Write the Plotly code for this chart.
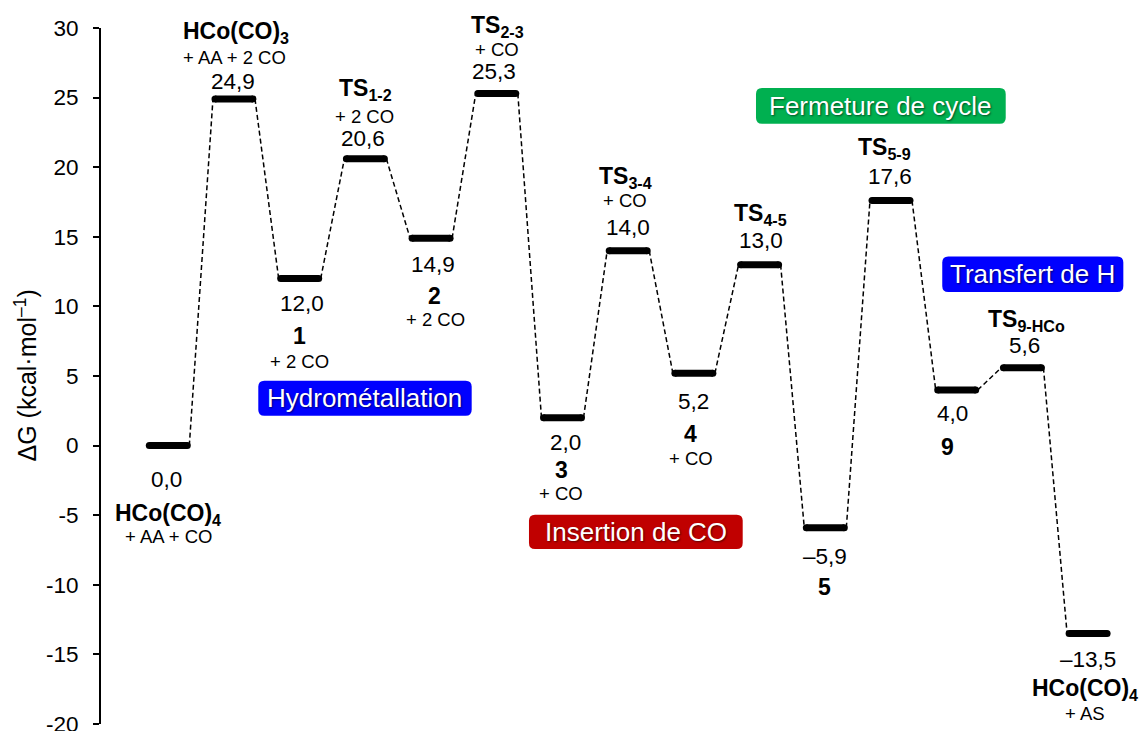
import plotly.graph_objects as go

# Free-energy profile of the hydroformylation cycle
states = ["HCo(CO)4", "HCo(CO)3", "1", "TS1-2", "2", "TS2-3", "3", "TS3-4",
          "4", "TS4-5", "5", "TS5-9", "9", "TS9-HCo", "HCo(CO)4"]
energies = [0.0, 24.9, 12.0, 20.6, 14.9, 25.3, 2.0, 14.0,
            5.2, 13.0, -5.9, 17.6, 4.0, 5.6, -13.5]
state_labels = ["<b>HCo(CO)<sub>4</sub></b>", "<b>HCo(CO)<sub>3</sub></b>", "<b>1</b>",
                "<b>TS<sub>1-2</sub></b>", "<b>2</b>", "<b>TS<sub>2-3</sub></b>", "<b>3</b>",
                "<b>TS<sub>3-4</sub></b>", "<b>4</b>", "<b>TS<sub>4-5</sub></b>", "<b>5</b>",
                "<b>TS<sub>5-9</sub></b>", "<b>9</b>", "<b>TS<sub>9-HCo</sub></b>",
                "<b>HCo(CO)<sub>4</sub></b>"]
partners = ["+ AA + CO", "+ AA + 2 CO", "+ 2 CO", "+ 2 CO", "+ 2 CO", "+ CO", "+ CO",
            "+ CO", "+ CO", "", "", "", "", "", "+ AS"]

stage_names = ["Hydrométallation", "Insertion de CO", "Fermeture de cycle", "Transfert de H"]
stage_colors = ["#0000FF", "#C00000", "#00B050", "#0000FF"]

y_tickvals = [-20, -15, -10, -5, 0, 5, 10, 15, 20, 25, 30]
y_ticktext = ["-20", "-15", "-10", "-5", "0", "5", "10", "15", "20", "25", "30"]

# ---- geometry ----
W, H = 1141, 731
M_L, M_R, M_T, M_B = 101, 0, 28, 7
X_RANGE = [-1.024, 14.805]
Y_RANGE = [-20, 30]
SX = (W - M_L - M_R) / (X_RANGE[1] - X_RANGE[0])   # px per x unit
SY = (H - M_T - M_B) / (Y_RANGE[1] - Y_RANGE[0])   # px per y unit

BAR_HALF = 0.289      # half length of a level line (without caps)
LINK_HALF = 0.32      # where dashed links leave / meet a level

FONT = "Arial, Liberation Sans, sans-serif"

fig = go.Figure()

# dashed connectors between consecutive levels
lx, ly = [], []
for i in range(len(energies) - 1):
    lx += [i + LINK_HALF, i + 1 - LINK_HALF, None]
    ly += [energies[i], energies[i + 1], None]
fig.add_trace(go.Scatter(x=lx, y=ly, mode="lines",
                         line=dict(color="black", width=1.5, dash="5px,3px"),
                         hoverinfo="skip", showlegend=False))

# thick energy levels with rounded ends
bx, by = [], []
for i, e in enumerate(energies):
    bx += [i - BAR_HALF, i + BAR_HALF, None]
    by += [e, e, None]
fig.add_trace(go.Scatter(x=bx, y=by, mode="lines+markers",
                         line=dict(color="black", width=7),
                         marker=dict(color="black", size=7, symbol="circle"),
                         hoverinfo="skip", showlegend=False))


def fmt(v):
    s = f"{v:.1f}".replace(".", ",")
    return s.replace("-", "\u2013")


# label placement per state: side, (dy, dx) for value / name / partner
place = [
    ("below", (-34, -2), (-66, 0), (-91, 0)),
    ("above", (17, -1), (69, 2), (41, 1)),
    ("below", (-24.5, 2), (-57, 0), (-83, 0)),
    ("above", (20, -2), (72, 0), (42, -1)),
    ("below", (-26.5, 2), (-58, 3), (-81.5, 4)),
    ("above", (22, -3), (70, 1), (44, 0)),
    ("below", (-24.6, 3.5), (-52, -1), (-76, -1)),
    ("above", (23, 0), (76, -3), (50, -3)),
    ("below", (-28, 0), (-60.5, -3), (-85.5, -3)),
    ("above", (24, 1), (53, 1), (0, 0)),
    ("below", (-29, 0), (-59, -1), (0, 0)),
    ("above", (24, -1), (55, -7), (0, 0)),
    ("below", (-24, -4), (-57, -9), (0, 0)),
    ("above", (22, 2), (50, 4), (0, 0)),
    ("below", (-26, 0), (-53, -3), (-79.5, -3)),
]

SUB_FIX = 3  # vertical correction for labels carrying a subscript

for i, e in enumerate(energies):
    side, (vdy, vdx), (ndy, ndx), (pdy, pdx) = place[i]
    fig.add_annotation(x=i, y=e, text=fmt(e), showarrow=False,
                       xanchor="center", yanchor="middle",
                       xshift=vdx, yshift=vdy,
                       font=dict(family=FONT, size=22.5, color="black"))
    nfix = SUB_FIX if "<sub>" in state_labels[i] else 0
    fig.add_annotation(x=i, y=e, text=state_labels[i], showarrow=False,
                       xanchor="center", yanchor="middle",
                       xshift=ndx, yshift=ndy - nfix,
                       font=dict(family=FONT, size=23, color="black"))
    if partners[i]:
        fig.add_annotation(x=i, y=e, text=partners[i], showarrow=False,
                           xanchor="center", yanchor="middle",
                           xshift=pdx, yshift=pdy,
                           font=dict(family=FONT, size=18.5, color="black"))

# stage boxes (x0, x1, y0, y1 in data units)
stage_boxes = [
    (1.37, 4.618, 2.15, 4.66),
    (5.49, 8.743, -7.43, -4.96),
    (8.945, 12.746, 23.13, 25.69),
    (11.78, 14.536, 11.03, 13.59),
]


def rounded_rect(x0, x1, y0, y1, r_px=6):
    rx, ry = r_px / SX, r_px / SY
    return (f"M {x0 + rx},{y1} L {x1 - rx},{y1} Q {x1},{y1} {x1},{y1 - ry} "
            f"L {x1},{y0 + ry} Q {x1},{y0} {x1 - rx},{y0} "
            f"L {x0 + rx},{y0} Q {x0},{y0} {x0},{y0 + ry} "
            f"L {x0},{y1 - ry} Q {x0},{y1} {x0 + rx},{y1} Z")


for name, color, (x0, x1, y0, y1) in zip(stage_names, stage_colors, stage_boxes):
    fig.add_shape(type="path", path=rounded_rect(x0, x1, y0, y1),
                  fillcolor=color, line=dict(width=0), layer="above")
    fig.add_annotation(x=(x0 + x1) / 2, y=(y0 + y1) / 2, text=name, showarrow=False,
                       xanchor="center", yanchor="middle",
                       font=dict(family=FONT, size=26, color="white",
                                 shadow="1px 1px 2px rgba(0,0,0,0.55)"))

# y-axis title
fig.add_annotation(xref="paper", yref="paper", x=(25.5 - M_L) / (W - M_L - M_R), y=0.5,
                   text="\u0394G (kcal\u00b7mol<sup>\u20131</sup>)", textangle=-90,
                   showarrow=False, xanchor="center", yanchor="middle",
                   font=dict(family=FONT, size=25, color="black"))

fig.update_layout(
    width=W, height=H,
    margin=dict(l=M_L, r=M_R, t=M_T, b=M_B, pad=0, autoexpand=False),
    paper_bgcolor="white", plot_bgcolor="white",
    showlegend=False,
    xaxis=dict(visible=False, range=X_RANGE, fixedrange=True, automargin=False),
    yaxis=dict(range=Y_RANGE, tickvals=y_tickvals, ticktext=y_ticktext,
               automargin=False,
               showline=True, linecolor="black", linewidth=2,
               ticks="outside", ticklen=6, tickwidth=2, tickcolor="black",
               ticklabelstandoff=10, ticklabeloverflow="allow",
               showgrid=False, zeroline=False,
               tickfont=dict(family=FONT, size=22.5, color="black")),
)

fig.write_html("out.html")
